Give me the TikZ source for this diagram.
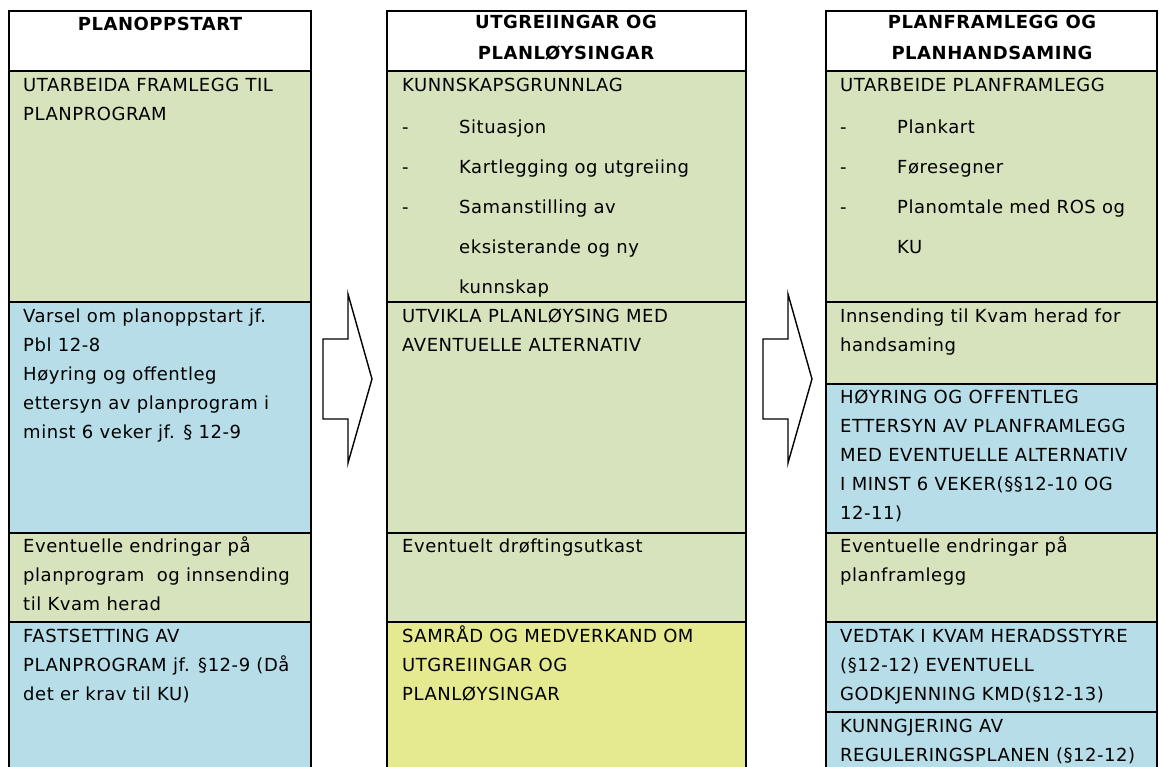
\documentclass[tikz,border=0pt]{standalone}
\usepackage{fontspec}
\setmainfont{DejaVu Sans}[LetterSpace=3]
\usepackage{xcolor}
\usepackage{tikz}

\definecolor{planGreen}{HTML}{D7E3BC}
\definecolor{planBlue}{HTML}{B7DDE8}
\definecolor{planYellow}{HTML}{E5E98F}

\newcommand{\dashitem}{\makebox[57pt][l]{-}}
\newcommand{\noitem}{\hspace*{57pt}}

\tikzset{
    cell/.style={draw=black, line width=2pt},
    celltext/.style={anchor=north west, align=left, inner sep=0pt, font=\fontsize{18}{29}\selectfont},
    headtext/.style={anchor=north, align=center, inner sep=0pt, font=\fontsize{18}{31}\selectfont\bfseries},
    phasearrow/.style={draw=black, line width=1.4pt, fill=white}
}

\begin{document}
\begin{tikzpicture}[x=1pt, y=-1pt]
        \useasboundingbox (0,0) rectangle (1159,767);

        % planoppstart
        \filldraw[cell, fill=white] (9,11) rectangle (311,71);
        \filldraw[cell, fill=planGreen] (9,71) rectangle (311,302);
        \filldraw[cell, fill=planBlue] (9,302) rectangle (311,533);
        \filldraw[cell, fill=planGreen] (9,533) rectangle (311,622);
        \filldraw[cell, fill=planBlue] (9,622) rectangle (311,780);
        \node[headtext] (h1) at (160,9) {\strut PLANOPPSTART};
        \node[celltext] (a1) at (23,71) {\strut UTARBEIDA FRAMLEGG TIL\\PLANPROGRAM};
        \node[celltext] (a2) at (23,302) {\strut Varsel om planoppstart jf.\\Pbl 12-8\\Høyring og offentleg\\ettersyn av planprogram i\\minst 6 veker jf. § 12-9};
        \node[celltext] (a3) at (23,532) {\strut Eventuelle endringar på\\planprogram\ \ og innsending\\til Kvam herad};
        \node[celltext] (a4) at (23,622) {\strut FASTSETTING AV\\PLANPROGRAM jf. §12-9 (Då\\det er krav til KU)};

        % utgreiingar
        \filldraw[cell, fill=white] (387,11) rectangle (746,71);
        \filldraw[cell, fill=planGreen] (387,71) rectangle (746,302);
        \filldraw[cell, fill=planGreen] (387,302) rectangle (746,533);
        \filldraw[cell, fill=planGreen] (387,533) rectangle (746,622);
        \filldraw[cell, fill=planYellow] (387,622) rectangle (746,780);
        \node[headtext] (h2) at (566,7) {\strut UTGREIINGAR OG\\PLANLØYSINGAR};
        \node[celltext] (b1) at (402,71) {\strut KUNNSKAPSGRUNNLAG\\[13pt]\dashitem Situasjon\\[11pt]\dashitem Kartlegging og utgreiing\\[11pt]\dashitem Samanstilling av\\[11pt]\noitem eksisterande og ny\\[11pt]\noitem kunnskap};
        \node[celltext] (b2) at (402,302) {\strut UTVIKLA PLANLØYSING MED\\AVENTUELLE ALTERNATIV};
        \node[celltext] (b3) at (402,532) {\strut Eventuelt drøftingsutkast};
        \node[celltext] (b4) at (402,622) {\strut SAMRÅD OG MEDVERKAND OM\\UTGREIINGAR OG\\PLANLØYSINGAR};

        % planframlegg
        \filldraw[cell, fill=white] (826,11) rectangle (1157,71);
        \filldraw[cell, fill=planGreen] (826,71) rectangle (1157,302);
        \filldraw[cell, fill=planGreen] (826,302) rectangle (1157,384);
        \filldraw[cell, fill=planBlue] (826,384) rectangle (1157,533);
        \filldraw[cell, fill=planGreen] (826,533) rectangle (1157,622);
        \filldraw[cell, fill=planBlue] (826,622) rectangle (1157,712);
        \filldraw[cell, fill=planBlue] (826,712) rectangle (1157,780);
        \node[headtext] (h3) at (992,7) {\strut PLANFRAMLEGG OG\\PLANHANDSAMING};
        \node[celltext] (c1) at (840,71) {\strut UTARBEIDE PLANFRAMLEGG\\[13pt]\dashitem Plankart\\[11pt]\dashitem Føresegner\\[11pt]\dashitem Planomtale med ROS og\\[11pt]\noitem KU};
        \node[celltext] (c2) at (840,302) {\strut Innsending til Kvam herad for\\handsaming};
        \node[celltext] (c3) at (840,383) {\strut HØYRING OG OFFENTLEG\\ETTERSYN AV PLANFRAMLEGG\\MED EVENTUELLE ALTERNATIV\\I MINST 6 VEKER(§§12-10 OG\\12-11)};
        \node[celltext] (c4) at (840,532) {\strut Eventuelle endringar på\\planframlegg};
        \node[celltext] (c5) at (840,622) {\strut VEDTAK I KVAM HERADSSTYRE\\(§12-12) EVENTUELL\\GODKJENNING KMD(§12-13)};
        \node[celltext] (c6) at (840,712) {\strut KUNNGJERING AV\\REGULERINGSPLANEN (§12-12)};

        % arrows between phases
        \foreach \ax in {323,763}
            \filldraw[phasearrow] (\ax,339) -- ++(25,0) -- ++(0,-45) -- ++(24,85) -- ++(-24,84) -- ++(0,-44) -- ++(-25,0) -- cycle;
\end{tikzpicture}
\end{document}
